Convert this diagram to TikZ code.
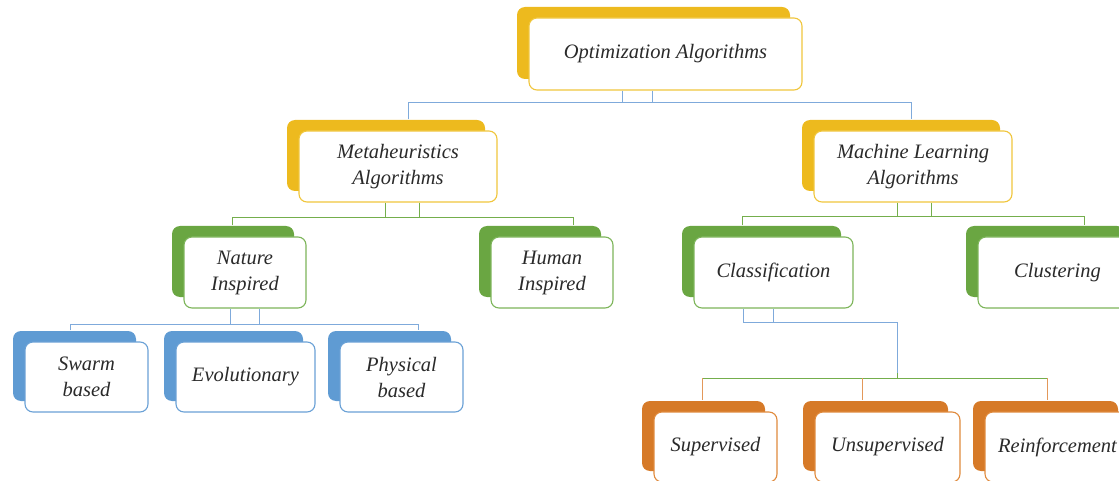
\documentclass[tikz,border=0pt]{standalone}
\usepackage{fontspec}
\setmainfont{Liberation Serif}
\usetikzlibrary{shadows}

\definecolor{gold}{HTML}{EDBA1E}
\definecolor{goldedge}{HTML}{F0C63C}
\definecolor{leaf}{HTML}{6AA642}
\definecolor{leafedge}{HTML}{7DB55A}
\definecolor{sky}{HTML}{5F9BD3}
\definecolor{skyedge}{HTML}{6AA1D6}
\definecolor{rust}{HTML}{D67A28}
\definecolor{rustedge}{HTML}{E08A3C}
\definecolor{bluelink}{HTML}{7FAADB}
\definecolor{greenlink}{HTML}{74AE4C}
\definecolor{orangelink}{HTML}{E3985A}
\definecolor{ink}{HTML}{2A2A2A}

\tikzset{
  card/.style={rectangle, rounded corners=8pt, fill=white, line width=1.1pt,
    align=center, inner sep=0pt, text=ink,
    font=\itshape\fontsize{20.5}{26}\selectfont},
  wh/.style 2 args={minimum width=#1pt, minimum height=#2pt},
  backed/.style={general shadow={fill=#1, draw=none, shadow xshift=-12pt, shadow yshift=11pt}},
  goldcard/.style={card, draw=goldedge, backed=gold},
  greencard/.style={card, draw=leafedge, backed=leaf},
  bluecard/.style={card, draw=skyedge, backed=sky},
  orangecard/.style={card, draw=rustedge, backed=rust},
  link/.style={line width=0.9pt, #1},
}

\begin{document}
\begin{tikzpicture}[x=1pt, y=1pt]
\useasboundingbox (0,0) rectangle (1119,-481);

% level 0
\node[goldcard, wh={273}{72}] (opt) at (665.5,-54) {Optimization Algorithms};

% level 1
\node[goldcard, wh={198}{71}] (meta) at (398,-166.5) {Metaheuristics\\Algorithms};
\node[goldcard, wh={198}{71}] (ml) at (913,-166.5) {Machine Learning\\Algorithms};

% level 2
\node[greencard, wh={122}{71}] (nature) at (245,-272.5) {Nature\\Inspired};
\node[greencard, wh={122}{71}] (human) at (552,-272.5) {Human\\Inspired};
\node[greencard, wh={159}{71}] (class) at (773.5,-272.5) {Classification};
\node[greencard, wh={159}{71}] (clust) at (1057.5,-272.5) {Clustering};

% level 3, metaheuristics side
\node[bluecard, wh={123}{70}] (swarm) at (86.5,-377) {Swarm\\based};
\node[bluecard, wh={139}{70}] (evo) at (245.5,-377) {Evolutionary};
\node[bluecard, wh={123}{70}] (phys) at (401.5,-377) {Physical\\based};

% level 3, machine learning side
\node[orangecard, wh={123}{70}] (sup) at (715.5,-447) {Supervised};
\node[orangecard, wh={145}{70}] (unsup) at (887.5,-447) {Unsupervised};
\node[orangecard, wh={145}{70}] (reinf) at (1057.5,-447) {Reinforcement};

% connectors: each parent has two stubs dropping onto a bus that feeds the children
\draw[link=bluelink] ([xshift=-43.5pt]opt.south) -- ++(0,-12);
\draw[link=bluelink] ([xshift=-13.5pt]opt.south) -- ++(0,-12);
\draw[link=bluelink] ([xshift=10pt,yshift=11pt]meta.north) |- (911,-102) -- ([xshift=-2pt,yshift=11pt]ml.north);

\draw[link=greenlink] ([xshift=-13pt]meta.south) -- ++(0,-15);
\draw[link=greenlink] ([xshift=21pt]meta.south) -- ++(0,-15);
\draw[link=greenlink] ([xshift=-13pt,yshift=11pt]nature.north) |- (573,-217) -- ([xshift=21pt,yshift=11pt]human.north);

\draw[link=greenlink] ([xshift=-16pt]ml.south) -- ++(0,-14.5);
\draw[link=greenlink] ([xshift=18pt]ml.south) -- ++(0,-14.5);
\draw[link=greenlink] ([xshift=-31.5pt,yshift=11pt]class.north) |- (1084,-216.5) -- ([xshift=26.5pt,yshift=11pt]clust.north);

\draw[link=bluelink] ([xshift=-15pt]nature.south) -- ++(0,-16);
\draw[link=bluelink] ([xshift=14pt]nature.south) -- ++(0,-16);
\draw[link=bluelink] ([xshift=-16.5pt,yshift=11pt]swarm.north) |- (418,-324) -- ([xshift=16.5pt,yshift=11pt]phys.north);

\draw[link=bluelink] ([xshift=-30.5pt]class.south) |- (897,-322) -- (897,-378) coordinate (hub);
\draw[link=bluelink] (class.south) -- ++(0,-14);
\draw[link=greenlink] (hub) -- ++(0,5);
\draw[link=greenlink] (702,-378) -- (1047,-378);
\draw[link=orangelink] (702,-378) -- ([xshift=-13.5pt,yshift=11pt]sup.north);
\draw[link=orangelink] (862,-378) -- ([xshift=-25.5pt,yshift=11pt]unsup.north);
\draw[link=orangelink] (1047,-378) -- ([xshift=-10.5pt,yshift=11pt]reinf.north);
\end{tikzpicture}
\end{document}
